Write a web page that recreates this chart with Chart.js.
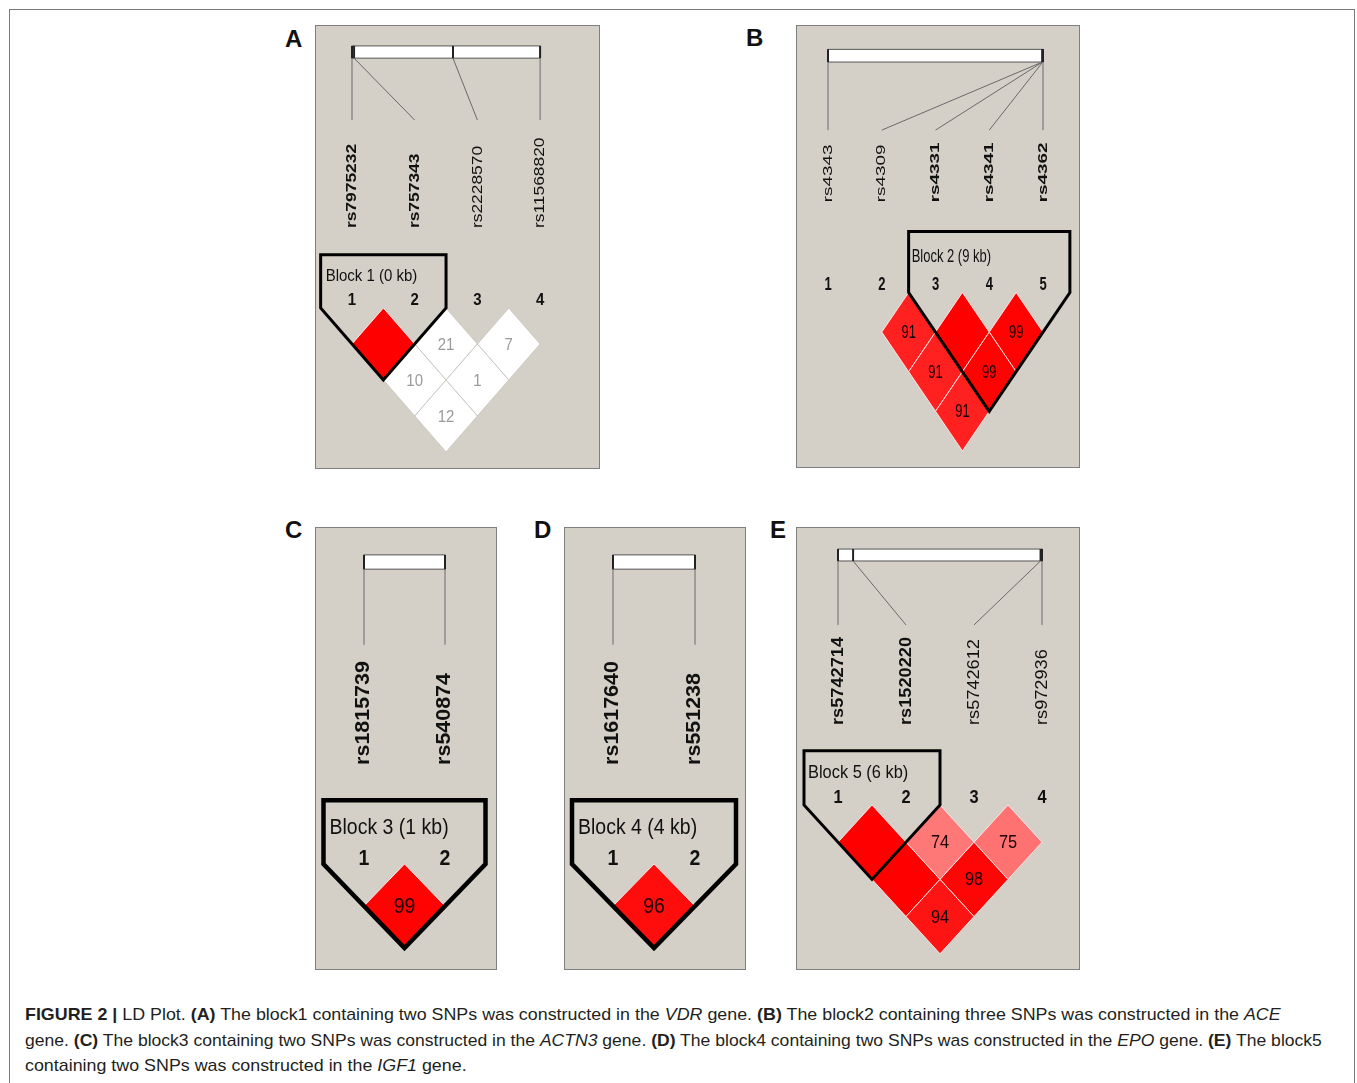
<!DOCTYPE html>
<html lang="en">
<head>
<meta charset="UTF-8">
<title>LD Plot</title>
<script src="https://cdn.jsdelivr.net/npm/chart.js"></script>
<style>
  body { margin: 0; background: #fff; width: 1357px; height: 1083px; overflow: hidden; position: relative;
         font-family: "Liberation Sans", Arial, sans-serif; }
  #frame { position: absolute; left: 9px; top: 9px; width: 1344px; height: 1100px; border: 1.5px solid #7a7a7a; }
  canvas.panel { position: absolute; }
  .tag { position: absolute; font: bold 24px/1 "Liberation Sans", Arial, sans-serif; color: #111; }
  .cap { position: absolute; left: 25px; white-space: nowrap; font-size: 17px; line-height: 17px;
         color: #231f20; transform-origin: 0 0; }
</style>
</head>
<body>
<div id="frame"></div>

<div class="tag" style="left:285px;top:27px">A</div>
<div class="tag" style="left:746px;top:26px">B</div>
<div class="tag" style="left:285px;top:518px">C</div>
<div class="tag" style="left:534px;top:518px">D</div>
<div class="tag" style="left:770px;top:518px">E</div>

<canvas class="panel" id="pA" width="285" height="444" style="left:315px;top:25px"></canvas>
<canvas class="panel" id="pB" width="284" height="443" style="left:796px;top:25px"></canvas>
<canvas class="panel" id="pC" width="182" height="443" style="left:315px;top:527px"></canvas>
<canvas class="panel" id="pD" width="182" height="443" style="left:564px;top:527px"></canvas>
<canvas class="panel" id="pE" width="284" height="443" style="left:796px;top:527px"></canvas>

<div class="cap" id="cap1" data-w="1256" style="top:1006px"><b>FIGURE 2 |</b> LD Plot. <b>(A)</b> The block1 containing two SNPs was constructed in the <i>VDR</i> gene. <b>(B)</b> The block2 containing three SNPs was constructed in the <i>ACE</i></div>
<div class="cap" id="cap2" data-w="1297" style="top:1031.5px">gene. <b>(C)</b> The block3 containing two SNPs was constructed in the <i>ACTN3</i> gene. <b>(D)</b> The block4 containing two SNPs was constructed in the <i>EPO</i> gene. <b>(E)</b> The block5</div>
<div class="cap" id="cap3" style="top:1057px">containing two SNPs was constructed in the <i>IGF1</i> gene.</div>

<script>
// ---- data: SNP names, bold (tagged) flags, relative position on the gene bar,
// ---- pairwise D' (x100, 100 = shown blank), LOD>=2 flags, haplotype block
const snpA = ['rs7975232', 'rs757343', 'rs2228570', 'rs11568820'];
const boldA = [true, true, false, false];
const locA = [0, 0.011, 0.537, 1];
const ldA = [[1, 2, 100], [2, 3, 21], [3, 4, 7], [1, 3, 10], [2, 4, 1], [1, 4, 12]];
const strongA = [true, false, false, false, false, false];
const blockA = [1, 2, 'Block 1 (0 kb)'];

const snpB = ['rs4343', 'rs4309', 'rs4331', 'rs4341', 'rs4362'];
const boldB = [false, false, true, true, true];
const locB = [0, 0.997, 0.998, 0.999, 1];
const ldB = [[2, 3, 91], [3, 4, 100], [4, 5, 99], [2, 4, 91], [3, 5, 99], [2, 5, 91]];
const strongB = [true, true, true, true, true, true];
const blockB = [3, 5, 'Block 2 (9 kb)'];

const snpC = ['rs1815739', 'rs540874'];
const boldC = [true, true];
const locC = [0, 1];
const ldC = [[1, 2, 99]];
const strongC = [true];
const blockC = [1, 2, 'Block 3 (1 kb)'];

const snpD = ['rs1617640', 'rs551238'];
const boldD = [true, true];
const locD = [0, 1];
const ldD = [[1, 2, 96]];
const strongD = [true];
const blockD = [1, 2, 'Block 4 (4 kb)'];

const snpE = ['rs5742714', 'rs1520220', 'rs5742612', 'rs972936'];
const boldE = [true, true, false, false];
const locE = [0, 0.074, 0.993, 1];
const ldE = [[1, 2, 100], [2, 3, 74], [3, 4, 75], [1, 3, 100], [2, 4, 98], [1, 4, 94]];
const strongE = [true, true, true, true, true, true];
const blockE = [1, 2, 'Block 5 (6 kb)'];

// ---- layout of each panel (pixels for SNP 1 / level 0, and vertical positions in level units)
const layoutA = { w: 285, h: 444, x1: 37, dx: 62.7, y0: 283, dy: 72, font: 15, stretch: 1.16, outline: 3, pad: 5,
  barTop: -3.64, barBot: -3.47, lineEnd: -2.61, labelBot: -1.11, numY: -0.11, blockTop: -0.74, blockTextY: -0.44 };
const layoutB = { w: 284, h: 443, x1: 32, dx: 53.75, y0: 267.5, dy: 79.2, font: 13, stretch: 1.45, outline: 3, pad: 3,
  barTop: -3.07, barBot: -2.91, lineEnd: -2.05, labelBot: -1.14, numY: -0.095, blockTop: -0.77, blockTextY: -0.45 };
const layoutC = { w: 182, h: 443, x1: 49, dx: 81, y0: 337, dy: 84, font: 19.5, stretch: 1.1, outline: 4.5, pad: 6,
  barTop: -3.68, barBot: -3.51, lineEnd: -2.61, labelBot: -1.18, numY: -0.06, blockTop: -0.76, blockTextY: -0.43 };
const layoutD = Object.assign({}, layoutC, { dx: 82 });
const layoutE = { w: 284, h: 443, x1: 42, dx: 68, y0: 278, dy: 74.4, font: 16.4, stretch: 1.11, outline: 3, pad: 4,
  barTop: -3.44, barBot: -3.28, lineEnd: -2.42, labelBot: -1.075, numY: -0.09, blockTop: -0.73, blockTextY: -0.43 };

const FONT = '"Liberation Sans", Arial, sans-serif';
const panels = {};

function ldColour(v, strong) {
  if (!strong) return '#ffffff';
  const d = 1 - v / 100;
  const g = Math.min(255, Math.round(300 * d + 624 * d * d));
  return 'rgb(255,' + g + ',' + g + ')';
}

function drawText(ctx, txt, x, y, font, stretch, align, rotate) {
  ctx.save();
  ctx.translate(x, y);
  if (rotate) {
    ctx.rotate(-Math.PI / 2);
    ctx.scale(stretch, 1);
  } else {
    ctx.scale(1, stretch);
  }
  ctx.font = font;
  ctx.textAlign = align;
  ctx.textBaseline = 'middle';
  ctx.fillText(txt, 0, 0);
  ctx.restore();
}

const ldPlugin = {
  id: 'ldPlot',
  beforeDraw(chart) {
    const ctx = chart.ctx;
    ctx.save();
    ctx.fillStyle = '#d4d0c8';
    ctx.fillRect(0, 0, chart.width, chart.height);
    ctx.strokeStyle = '#7f7f7f';
    ctx.lineWidth = 1;
    ctx.strokeRect(0.5, 0.5, chart.width - 1, chart.height - 1);
    ctx.restore();
  },
  afterDatasetsDraw(chart) {
    const p = panels[chart.canvas.id];
    const L = p.lay;
    const ctx = chart.ctx;
    const X = v => chart.scales.x.getPixelForValue(v);
    const Y = v => chart.scales.y.getPixelForValue(v);
    const n = p.snps.length;
    const fs = L.font;

    ctx.save();
    // gene bar
    const bx0 = X(1), bx1 = X(n);
    const bt = Y(L.barTop), bb = Y(L.barBot);
    ctx.fillStyle = '#ffffff';
    ctx.fillRect(bx0, bt, bx1 - bx0, bb - bt);
    ctx.strokeStyle = '#555';
    ctx.lineWidth = 1;
    ctx.strokeRect(bx0, bt, bx1 - bx0, bb - bt);
    p.loc.forEach((f, i) => {
      const px = bx0 + f * (bx1 - bx0);
      ctx.strokeStyle = '#222';
      ctx.lineWidth = 2;
      ctx.beginPath();
      ctx.moveTo(px, bt);
      ctx.lineTo(px, bb);
      ctx.stroke();
      ctx.strokeStyle = '#6a6a6a';
      ctx.lineWidth = 1;
      ctx.beginPath();
      ctx.moveTo(px, bb);
      ctx.lineTo(X(i + 1), Y(L.lineEnd));
      ctx.stroke();
    });

    // SNP names
    ctx.fillStyle = '#111';
    p.snps.forEach((s, i) => {
      const f = (p.bold[i] ? 'bold ' : '') + fs + 'px ' + FONT;
      drawText(ctx, s, X(i + 1), Y(L.labelBot), f, L.stretch, 'left', true);
    });

    // marker numbers
    p.snps.forEach((s, i) => {
      drawText(ctx, String(i + 1), X(i + 1), Y(L.numY), 'bold ' + fs + 'px ' + FONT, L.stretch, 'center', false);
    });

    // LD diamonds
    const meta = chart.getDatasetMeta(0);
    meta.data.forEach((el, i) => {
      const r = chart.data.datasets[0].data[i];
      const cx = el.x, cy = el.y;
      const hw = X(r.x + 0.5) - cx, hh = Y(r.y + 0.5) - cy;
      ctx.beginPath();
      ctx.moveTo(cx, cy - hh);
      ctx.lineTo(cx + hw, cy);
      ctx.lineTo(cx, cy + hh);
      ctx.lineTo(cx - hw, cy);
      ctx.closePath();
      ctx.fillStyle = ldColour(r.v, r.strong);
      ctx.fill();
      ctx.strokeStyle = r.strong ? 'rgba(255,232,232,0.95)' : '#cdc9c1';
      ctx.lineWidth = 1;
      ctx.stroke();
      if (r.v < 100) {
        ctx.fillStyle = r.strong ? '#1a0000' : '#9a9a9a';
        drawText(ctx, String(r.v), cx, cy + 1, fs + 'px ' + FONT, L.stretch, 'center', false);
      }
    });

    // haplotype block outline
    const b0 = p.block[0], b1 = p.block[1];
    ctx.beginPath();
    ctx.moveTo(X(b0 - 0.5), Y(L.blockTop));
    ctx.lineTo(X(b1 + 0.5), Y(L.blockTop));
    ctx.lineTo(X(b1 + 0.5), Y(0));
    ctx.lineTo(X((b0 + b1) / 2), Y((b1 - b0) / 2 + 0.5));
    ctx.lineTo(X(b0 - 0.5), Y(0));
    ctx.closePath();
    ctx.strokeStyle = '#000';
    ctx.lineWidth = L.outline;
    ctx.lineJoin = 'miter';
    ctx.stroke();
    ctx.fillStyle = '#111';
    drawText(ctx, p.block[2], X(b0 - 0.5) + L.pad, Y(L.blockTextY), fs + 'px ' + FONT, L.stretch, 'left', false);
    ctx.restore();
  }
};

function makePanel(id, snps, bold, loc, ld, strong, block, lay) {
  panels[id] = { snps: snps, bold: bold, loc: loc, block: block, lay: lay };
  const pts = ld.map((c, i) => ({ x: (c[0] + c[1]) / 2, y: (c[1] - c[0]) / 2, v: c[2], strong: strong[i] }));
  const xmin = 1 - lay.x1 / lay.dx;
  const ymin = -lay.y0 / lay.dy;
  new Chart(document.getElementById(id), {
    type: 'scatter',
    data: { datasets: [{ data: pts, pointRadius: 0, pointHoverRadius: 0 }] },
    options: {
      responsive: false,
      animation: false,
      events: [],
      layout: { padding: 0 },
      scales: {
        x: { type: 'linear', display: false, min: xmin, max: xmin + lay.w / lay.dx },
        y: { type: 'linear', display: false, reverse: true, min: ymin, max: ymin + lay.h / lay.dy }
      },
      plugins: { legend: { display: false }, tooltip: { enabled: false } }
    },
    plugins: [ldPlugin]
  });
}

makePanel('pA', snpA, boldA, locA, ldA, strongA, blockA, layoutA);
makePanel('pB', snpB, boldB, locB, ldB, strongB, blockB, layoutB);
makePanel('pC', snpC, boldC, locC, ldC, strongC, blockC, layoutC);
makePanel('pD', snpD, boldD, locD, ldD, strongD, blockD, layoutD);
makePanel('pE', snpE, boldE, locE, ldE, strongE, blockE, layoutE);

// squeeze caption lines to the width they take in the figure
const c1 = document.getElementById('cap1');
const c2 = document.getElementById('cap2');
const c3 = document.getElementById('cap3');
const s1 = c1.dataset.w / c1.offsetWidth;
const s2 = c2.dataset.w / c2.offsetWidth;
c1.style.transform = 'scaleX(' + s1 + ')';
c2.style.transform = 'scaleX(' + s2 + ')';
c3.style.transform = 'scaleX(' + s1 + ')';
</script>
</body>
</html>
